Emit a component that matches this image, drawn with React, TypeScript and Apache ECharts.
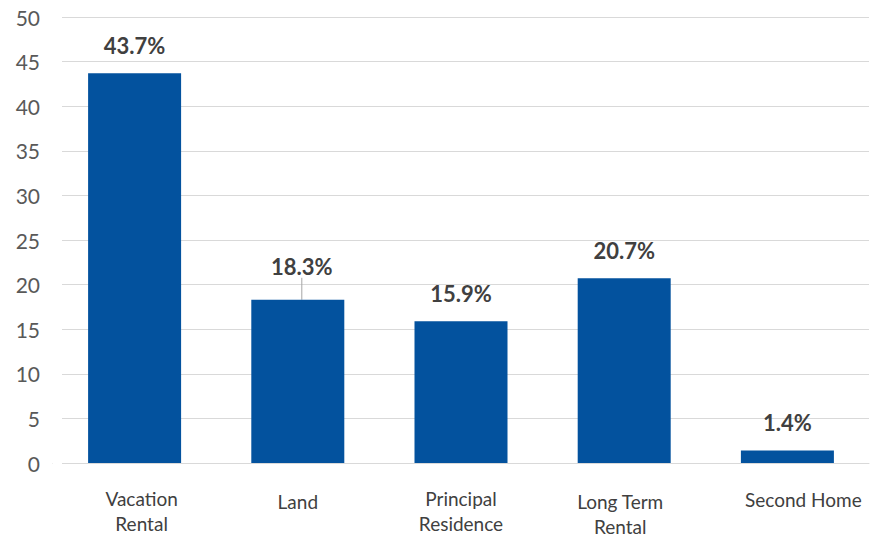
import React, { useEffect, useRef } from "react";
import * as echarts from "echarts";

const categories = ["Vacation\nRental", "Land", "Principal\nResidence", "Long Term\nRental", "Second Home"];
const values = [43.7, 18.3, 15.9, 20.7, 1.4];
const yTicks = { min: 0, max: 50, interval: 5 };

export default function App() {
  const ref = useRef<HTMLDivElement>(null);
  useEffect(() => {
    if (!ref.current) return;
    const chart = echarts.init(ref.current, undefined, { renderer: "svg" });
    const font = "Lato, 'Open Sans', sans-serif";
    // per-category label nudges [top, leftShift]
    const nudges = [
      [0, 7],
      [5, 0],
      [0, 0],
      [6, -4],
      [2, 16],
    ];
    const rich: Record<string, any> = {};
    nudges.forEach((n, i) => {
      const shift = n[1];
      rich["c" + i] = {
        fontFamily: font,
        fontSize: 19,
        color: "#404040",
        lineHeight: 25,
        align: "center",
        padding: [n[0], shift < 0 ? -2 * shift : 0, 0, shift > 0 ? 2 * shift : 0],
      };
    });
    const barData = values.map((v, i) =>
      i === 1 ? { value: v, labelLine: { show: true } } : v
    );
    chart.setOption({
      animation: false,
      grid: { left: 53, right: 2, top: 17, bottom: 76 },
      xAxis: {
        type: "category",
        data: categories,
        axisLine: { lineStyle: { color: "#d9d9d9", width: 1 } },
        axisTick: { show: false },
        axisLabel: {
          margin: 23,
          interval: 0,
          verticalAlign: "top",
          formatter: (v: string, i: number) =>
            v
              .split("\n")
              .map((line) => "{c" + i + "|" + line + "}")
              .join("\n"),
          rich,
        },
      },
      yAxis: {
        type: "value",
        min: yTicks.min,
        max: yTicks.max,
        interval: yTicks.interval,
        axisLine: { show: false },
        axisTick: { show: false },
        splitLine: { lineStyle: { color: "#d9d9d9", width: 1 } },
        axisLabel: {
          margin: 13,
          fontFamily: font,
          fontSize: 21,
          color: "#595959",
        },
      },
      series: [
        {
          type: "bar",
          data: barData,
          barWidth: 93,
          itemStyle: { color: "#03529E" },
          label: {
            show: true,
            position: "top",
            distance: 17,
            formatter: (p: any) => p.value.toFixed(1) + "%",
            fontFamily: font,
            fontWeight: "bold",
            fontSize: 22,
            color: "#404040",
          },
          labelLine: { show: false, lineStyle: { color: "#a6a6a6", width: 1 } },
          labelLayout: (p: any) => (p.dataIndex === 1 ? { dx: 4, dy: -5 } : {}),
        },
      ],
      graphic: [
        {
          type: "rect",
          shape: { x: 53, y: 10, width: 9, height: 455 },
          style: { fill: "#ffffff" },
          z: 100,
        },
      ],
    });
    return () => chart.dispose();
  }, []);
  return <div ref={ref} style={{ width: 871, height: 539, position: "absolute", left: 0, top: 0, background: "#fff" }} />;
}
